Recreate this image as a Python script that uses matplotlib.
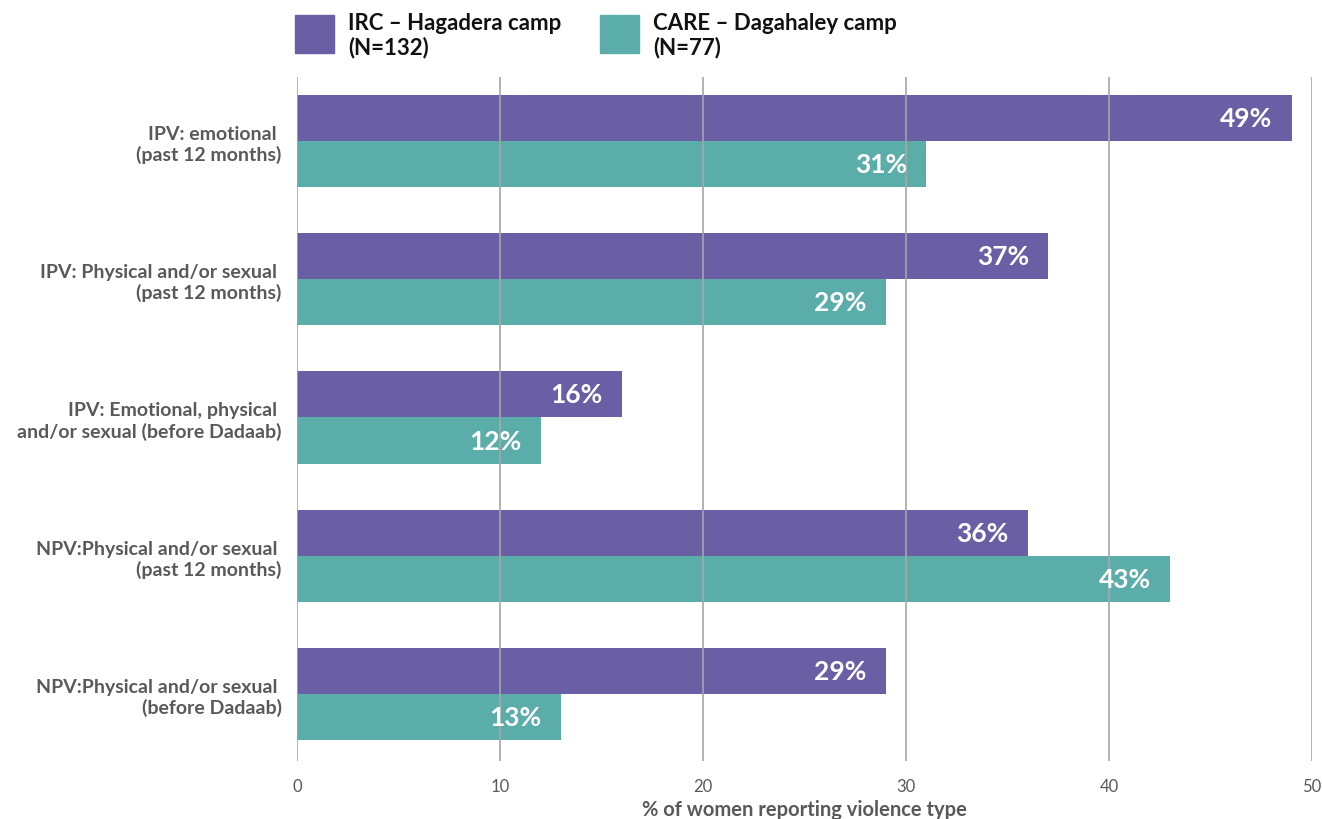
import numpy as np
import matplotlib.pyplot as plt
from matplotlib.patches import Rectangle

# Données
categories = [
    "IPV: emotional \n(past 12 months)",
    "IPV: Physical and/or sexual \n(past 12 months)",
    "IPV: Emotional, physical \nand/or sexual (before Dadaab)",
    "NPV:Physical and/or sexual \n(past 12 months)",
    "NPV:Physical and/or sexual \n(before Dadaab)",
]
irc_values = [49, 37, 16, 36, 29]
care_values = [31, 29, 12, 43, 13]
series_labels = ["IRC – Hagadera camp\n(N=132)", "CARE – Dagahaley camp\n(N=77)"]
x_ticks = [0, 10, 20, 30, 40, 50]

purple = '#6a5ea5'
teal = '#5badaa'
gris = '#595959'

plt.rcParams['font.family'] = ['Lato', 'DejaVu Sans']

fig = plt.figure(figsize=(13.22, 8.2), dpi=100)
ax = fig.add_axes([0.2247, 0.0707, 0.7677, 0.8342])

y = np.arange(len(categories))
h = 0.333
ax.barh(y - h / 2, irc_values, height=h, color=purple, zorder=1)
ax.barh(y + h / 2, care_values, height=h, color=teal, zorder=1)

# Étiquettes de valeurs dans les barres
for i in range(len(categories)):
    ax.text(irc_values[i] - 0.95, y[i] - h / 2, f"{irc_values[i]}%", ha='right', va='center',
            color='white', fontsize=19, fontweight='bold', zorder=3)
    ax.text(care_values[i] - 0.95, y[i] + h / 2, f"{care_values[i]}%", ha='right', va='center',
            color='white', fontsize=19, fontweight='bold', zorder=3)

ax.set_xlim(0, 50)
ax.set_ylim(4.485, -0.463)
ax.set_xticks(x_ticks)
ax.set_xticklabels([str(t) for t in x_ticks], color=gris, fontsize=12)
ax.set_yticks(y)
ax.set_yticklabels(categories, fontsize=14, fontweight='bold', color=gris, linespacing=1.2)
ax.tick_params(axis='both', length=0)
ax.tick_params(axis='y', pad=11)
ax.tick_params(axis='x', pad=12)

ax.grid(axis='x', color='#a6a6a6', linewidth=1.2, zorder=2)
ax.set_axisbelow(False)
for s in ax.spines.values():
    s.set_visible(False)

ax.set_xlabel("% of women reporting violence type", fontsize=14.5, fontweight='bold', color=gris, labelpad=4)

# Légende manuelle
for xs, col, lab in [(295, purple, series_labels[0]), (600, teal, series_labels[1])]:
    fig.patches.append(Rectangle((xs / 1322, 1 - 54 / 820), 39 / 1322, 38 / 820,
                                 transform=fig.transFigure, color=col))
    fig.text((xs + 53) / 1322, 1 - 36 / 820, lab, fontsize=16, fontweight='bold',
             color='#111111', va='center', ha='left', linespacing=1.15)

plt.savefig('out.png', dpi=100)
